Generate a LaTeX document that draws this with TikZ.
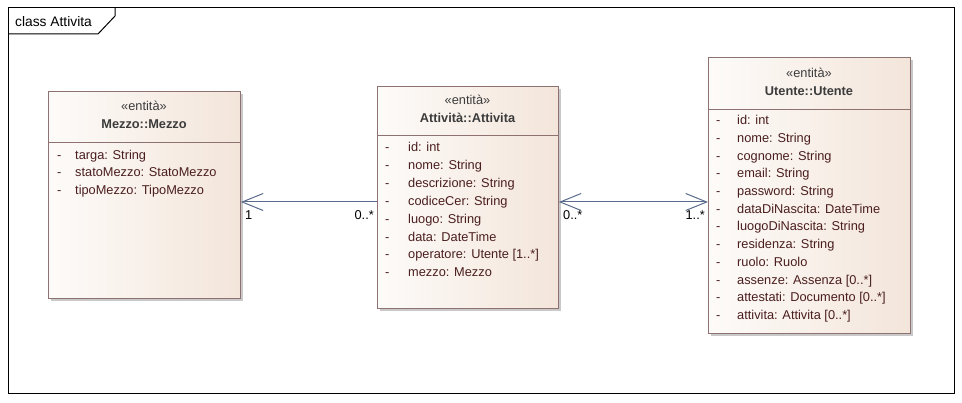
\documentclass[tikz,border=0pt]{standalone}
\usepackage{fontspec}
\setmainfont{Liberation Sans}
\usetikzlibrary{arrows.meta,calc}
\definecolor{boxborder}{HTML}{8E7272}
\definecolor{fillL}{HTML}{FDFBF9}
\definecolor{fillR}{HTML}{F3E5DA}
\definecolor{shadowc}{HTML}{C9C9C9}
\definecolor{attrc}{HTML}{4A1E1E}
\definecolor{namec}{HTML}{3C3C3C}
\definecolor{linkc}{HTML}{5A6A8C}
\tikzset{
  x=1pt, y=-1pt,
  classbox/.style={draw=boxborder, line width=0.8pt, left color=fillL, right color=fillR, shading angle=90, anchor=north west, inner sep=0pt},
  shadowbox/.style={fill=shadowc, draw=none},
  txt/.style={font=\fontsize{12.8}{14}\selectfont, inner sep=0pt, text height=9.2pt, text depth=2.6pt},
  stereo/.style={txt, text=namec, anchor=center},
  cname/.style={txt, font=\fontsize{12.8}{14}\selectfont\bfseries, text=namec, anchor=center},
  attr/.style={txt, text=attrc, anchor=west},
  mult/.style={txt, text=black},
  link/.style={draw=linkc, line width=1pt},
}
\begin{document}
\begin{tikzpicture}
\useasboundingbox (0,0) rectangle (962,403);
% frame
\draw[line width=1pt] (8,8) rectangle (954,394);
\draw[line width=1pt] (8,34) -- (98,34) -- (115,16) -- (115,8);
\node[anchor=west, font=\fontsize{13.8}{15}\selectfont, inner sep=0pt] (title) at (15,22) {class Attivita};

% Mezzo
\fill[shadowbox] (51,94) rectangle (243,301);
\node[classbox, minimum width=192pt, minimum height=207pt] (mezzo) at (48,91) {};
\draw[boxborder, line width=0.8pt] (48,142) -- (240,142);
\node[stereo] (mst) at (144,107) {«entità»};
\node[cname] (mnm) at (144,125) {Mezzo::Mezzo};
\foreach \t [count=\i from 0] in {targa: String, statoMezzo: StatoMezzo, tipoMezzo: TipoMezzo}{
  \node[attr] (md\i) at (57,156+17.5*\i) {-};
  \node[attr] (ma\i) at (75,156+17.5*\i) {\t};
}

% Attivita
\fill[shadowbox] (380,89) rectangle (561,311);
\node[classbox, minimum width=181pt, minimum height=222pt] (att) at (377,86) {};
\draw[boxborder, line width=0.8pt] (377,135) -- (558,135);
\node[stereo] (ast) at (467.5,101) {«entità»};
\node[cname] (anm) at (467.5,119) {Attività::Attivita};
\foreach \t [count=\i from 0] in {id: int, nome: String, descrizione: String, codiceCer: String, luogo: String, data: DateTime, operatore: Utente {[}1..*{]}, mezzo: Mezzo}{
  \node[attr] (ad\i) at (385,148.5+17.85*\i) {-};
  \node[attr] (aa\i) at (408,148.5+17.85*\i) {\t};
}

% Utente
\fill[shadowbox] (711,60) rectangle (913,336);
\node[classbox, minimum width=202pt, minimum height=276pt] (ute) at (708,57) {};
\draw[boxborder, line width=0.8pt] (708,109) -- (910,109);
\node[stereo] (ust) at (809,74) {«entità»};
\node[cname] (unm) at (809,92) {Utente::Utente};
\foreach \t [count=\i from 0] in {id: int, nome: String, cognome: String, email: String, password: String, dataDiNascita: DateTime, luogoDiNascita: String, residenza: String, ruolo: Ruolo, assenze: Assenza {[}0..*{]}, attestati: Documento {[}0..*{]}, attivita: Attivita {[}0..*{]}}{
  \node[attr] (ud\i) at (716,121.5+17.7*\i) {-};
  \node[attr] (ua\i) at (737,121.5+17.7*\i) {\t};
}

% connectors
\coordinate (ly) at (0,202);
\draw[link, -{Straight Barb[length=21pt,width=17pt]}] (att.west |- ly) -- (mezzo.east |- ly);
\draw[link, {Straight Barb[length=21pt,width=17pt]}-{Straight Barb[length=21pt,width=17pt]}] (att.east |- ly) -- (ute.west |- ly);

\node[mult, anchor=west] (m1) at (245,216) {1};
\node[mult, anchor=east] (m2) at (374,216) {0..*};
\node[mult, anchor=west] (m3) at (563,216) {0..*};
\node[mult, anchor=east] (m4) at (705,216) {1..*};
\end{tikzpicture}
\end{document}
